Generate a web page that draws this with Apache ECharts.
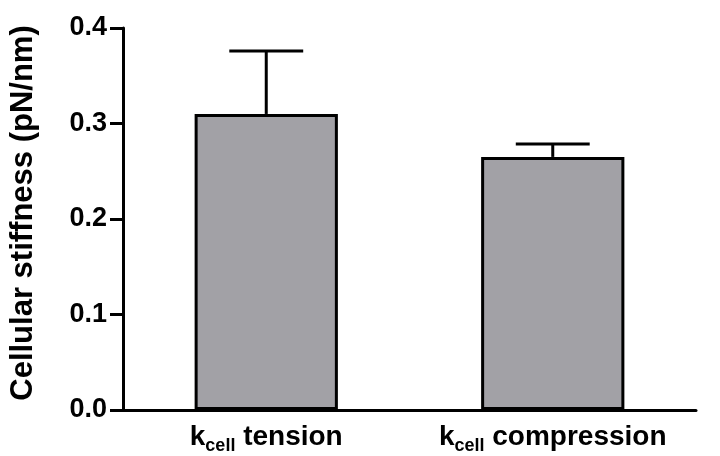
<!DOCTYPE html>
<html>
<head>
<meta charset="utf-8">
<script src="https://cdn.jsdelivr.net/npm/echarts@6/dist/echarts.min.js"></script>
<style>
html,body{margin:0;padding:0;background:#fff;}
#c{width:720px;height:456px;}
</style>
</head>
<body>
<div id="c"></div>
<script>
var categories = ['tension', 'compression'];
var means = [0.310, 0.265];
var errUpper = [0.376, 0.2785];
var yTicks = [0, 0.1, 0.2, 0.3, 0.4];

var chart = echarts.init(document.getElementById('c'), null, {renderer: 'canvas'});
var FONT = '"Liberation Sans", Arial, sans-serif';

var option = {
  animation: false,
  backgroundColor: '#ffffff',
  grid: {left: 121, right: 24, top: 28, bottom: 46},
  xAxis: {
    type: 'category',
    data: categories,
    boundaryGap: true,
    axisLine: {lineStyle: {color: '#000', width: 3}},
    axisTick: {alignWithLabel: true, length: 11, lineStyle: {color: '#000', width: 3}},
    axisLabel: {
      margin: 13,
      formatter: function (v) { return '{k|k}{sub|cell}{t| ' + v + '}'; },
      rich: {
        k: {fontFamily: FONT, fontWeight: 'bold', fontSize: 28, color: '#000', lineHeight: 26, verticalAlign: 'top'},
        sub: {fontFamily: FONT, fontWeight: 'bold', fontSize: 18, color: '#000', lineHeight: 18, padding: [14, 0, 0, 0], verticalAlign: 'top'},
        t: {fontFamily: FONT, fontWeight: 'bold', fontSize: 28, color: '#000', lineHeight: 26, verticalAlign: 'top'}
      }
    }
  },
  yAxis: {
    type: 'value',
    min: 0,
    max: 0.4,
    interval: 0.1,
    splitLine: {show: false},
    axisLine: {show: true, lineStyle: {color: '#000', width: 3}},
    axisTick: {show: true, length: 13, lineStyle: {color: '#000', width: 3}},
    axisLabel: {
      margin: 16,
      fontFamily: FONT, fontWeight: 'bold', fontSize: 27, color: '#000',
      formatter: function (v) { return v.toFixed(1); }
    },
    name: 'Cellular stiffness (pN/nm)',
    nameLocation: 'middle',
    nameGap: 84,
    nameTextStyle: {fontFamily: FONT, fontWeight: 'bold', fontSize: 31, color: '#000', padding: [0, 0, 0, 12]}
  },
  series: [
    {
      type: 'bar',
      data: means,
      barWidth: '50%',
      itemStyle: {color: '#a2a1a6', borderColor: '#000', borderWidth: 3},
      z: 2
    },
    {
      type: 'custom',
      data: categories.map(function (c, i) { return [i, means[i], errUpper[i]]; }),
      encode: {x: 0, y: [1, 2]},
      z: 1,
      renderItem: function (params, api) {
        var x = api.value(0);
        var base = api.coord([x, api.value(1)]);
        var top = api.coord([x, api.value(2)]);
        var half = api.size([1, 0])[0] * 0.129;
        var st = {stroke: '#000', lineWidth: 3};
        return {
          type: 'group',
          children: [
            {type: 'line', shape: {x1: base[0], y1: base[1], x2: top[0], y2: top[1]}, style: st},
            {type: 'line', shape: {x1: top[0] - half, y1: top[1], x2: top[0] + half, y2: top[1]}, style: st}
          ]
        };
      }
    }
  ]
};
chart.setOption(option);
</script>
</body>
</html>
